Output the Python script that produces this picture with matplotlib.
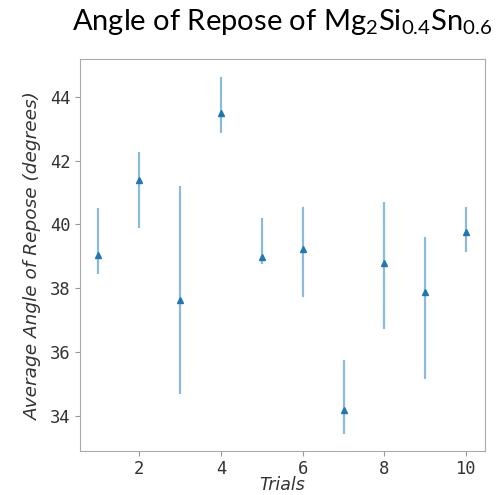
import matplotlib
matplotlib.use("Agg")
import matplotlib.pyplot as plt
import numpy as np

trials = [1, 2, 3, 4, 5, 6, 7, 8, 9, 10]
mean_angle = [39.04, 41.40, 37.64, 43.49, 38.98, 39.23, 34.19, 38.80, 37.87, 39.75]
upper_end = [40.51, 42.28, 41.22, 44.62, 40.20, 40.56, 35.75, 40.70, 39.61, 40.56]
lower_end = [38.46, 39.90, 34.69, 42.87, 38.75, 37.71, 33.44, 36.71, 35.15, 39.14]

mean = np.array(mean_angle)
err = np.vstack([mean - np.array(lower_end), np.array(upper_end) - mean])

plt.rcParams['mathtext.fontset'] = 'custom'
plt.rcParams['mathtext.rm'] = 'Lato'
plt.rcParams['mathtext.it'] = 'Lato:italic'

fig = plt.figure(figsize=(4.99, 4.95), dpi=100)
ax = fig.add_axes([0.160, 0.088, 0.811, 0.792])

ax.errorbar(trials, mean_angle, yerr=err, fmt='^', color='#1f77b4', ms=4,
            ecolor='#1f77b4', elinewidth=1.6, zorder=3)
for coll in ax.collections:
    coll.set_alpha(0.5)

ax.set_xticks([2, 4, 6, 8, 10])
ax.set_yticks([34, 36, 38, 40, 42, 44])
for lbl in ax.get_xticklabels() + ax.get_yticklabels():
    lbl.set_fontfamily('DejaVu Sans Mono')
    lbl.set_fontsize(12.3)
    lbl.set_color('#333333')
ax.tick_params(colors='#999999', labelcolor='#333333', length=3.5, pad=3)
ax.tick_params(axis='x', pad=2.5)
for sp in ax.spines.values():
    sp.set_color('#aaaaaa')

ax.set_xlabel('Trials', fontfamily='DejaVu Sans', fontstyle='italic', fontsize=12.5,
              color='#333333', labelpad=-1)
ax.set_ylabel('Average Angle of Repose (degrees)', fontfamily='DejaVu Sans',
              fontstyle='italic', fontsize=13.3, color='#333333', labelpad=6)

ax.set_title(r'Angle of Repose of Mg$_{2}$Si$_{0.4}$Sn$_{0.6}$', fontfamily='Lato',
             fontsize=21, pad=21)

fig.savefig('out.png', dpi=100)
